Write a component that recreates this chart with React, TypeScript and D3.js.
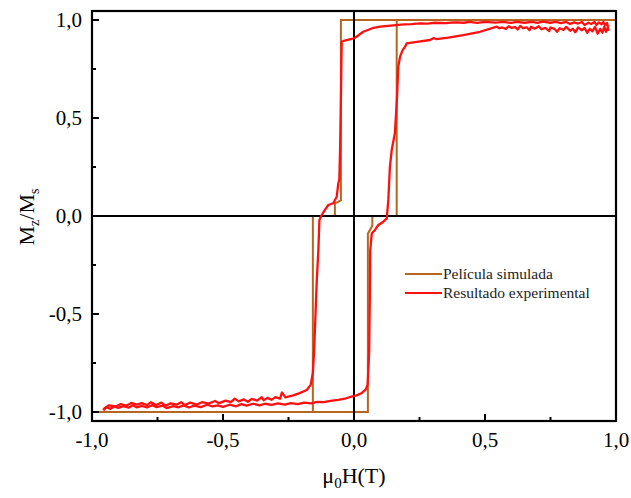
import React from "react";
import * as d3 from "d3";

// ---- data ----
const xMajorTicks = [-1, -0.5, 0, 0.5, 1];
const xMinorTicks = [-0.75, -0.25, 0.25, 0.75];
const yMajorTicks = [-1, -0.5, 0, 0.5, 1];
const yMinorTicks = [-0.75, -0.25, 0.25, 0.75];
const tickLabels = ["-1,0", "-0,5", "0,0", "0,5", "1,0"];

const seriesNames = ["Película simulada", "Resultado experimental"];
const seriesColors = ["#B8651F", "#FF1010"];

// simulated film loop: descending then ascending branch  [H, M]
const simDescending: [number, number][] = [
  [1, 1], [-0.05, 1], [-0.05, 0.08], [-0.073, 0.065], [-0.073, 0],
  [-0.157, 0], [-0.157, -1], [-1, -1],
];
const simAscending: [number, number][] = [
  [-1, -1], [0.053, -1], [0.053, -0.09], [0.07, -0.05], [0.07, 0],
  [0.163, 0], [0.163, 1], [1, 1],
];

// experimental loop: descending branch (right -> left)
const expDescending: [number, number][] = [
  [0.97, 0.96], [0.966, 0.985], [0.958, 0.972], [0.952, 0.99], [0.945, 0.978],
  [0.935, 0.988], [0.925, 0.975], [0.918, 0.99], [0.905, 0.98], [0.895, 0.986],
  [0.88, 0.975], [0.87, 0.99], [0.855, 0.982], [0.84, 0.988], [0.825, 0.98],
  [0.81, 0.99], [0.79, 0.984], [0.77, 0.99], [0.75, 0.986], [0.72, 0.992],
  [0.7, 0.985], [0.68, 0.99], [0.65, 0.986], [0.62, 0.99], [0.6, 0.985],
  [0.57, 0.99], [0.54, 0.987], [0.5, 0.99], [0.47, 0.985], [0.44, 0.99],
  [0.42, 0.986], [0.38, 0.988], [0.35, 0.984], [0.31, 0.986],
  [0.28, 0.982], [0.25, 0.983], [0.22, 0.979], [0.19, 0.978], [0.16, 0.974],
  [0.13, 0.97], [0.1, 0.966], [0.07, 0.958], [0.035, 0.94], [0.015, 0.92],
  [0.0, 0.907], [-0.02, 0.9], [-0.04, 0.893], [-0.047, 0.889],
  [-0.048, 0.8], [-0.05, 0.59], [-0.053, 0.35], [-0.056, 0.184], [-0.06, 0.167],
  [-0.066, 0.098], [-0.079, 0.065], [-0.098, 0.056], [-0.111, 0.031],
  [-0.123, 0.005], [-0.132, -0.02], [-0.136, -0.173], [-0.142, -0.327],
  [-0.145, -0.43], [-0.152, -0.684], [-0.157, -0.8], [-0.165, -0.86],
  [-0.18, -0.888], [-0.21, -0.905], [-0.232, -0.915], [-0.262, -0.925],
  [-0.275, -0.9], [-0.282, -0.932], [-0.3, -0.924], [-0.315, -0.938],
  [-0.33, -0.928], [-0.345, -0.94], [-0.352, -0.925], [-0.37, -0.942],
  [-0.39, -0.933], [-0.405, -0.948], [-0.42, -0.936], [-0.44, -0.946],
  [-0.455, -0.932], [-0.47, -0.95], [-0.49, -0.942], [-0.515, -0.955],
  [-0.53, -0.944], [-0.555, -0.957], [-0.58, -0.95], [-0.6, -0.962],
  [-0.625, -0.952], [-0.645, -0.965], [-0.66, -0.95], [-0.675, -0.962],
  [-0.7, -0.956], [-0.72, -0.968], [-0.735, -0.952], [-0.755, -0.964],
  [-0.775, -0.95], [-0.79, -0.965], [-0.81, -0.955], [-0.83, -0.962],
  [-0.85, -0.954], [-0.87, -0.968], [-0.89, -0.96], [-0.91, -0.972],
  [-0.935, -0.966], [-0.95, -0.978], [-0.957, -0.99],
];

// experimental loop: ascending branch (left -> right)
const expAscending: [number, number][] = [
  [-0.957, -0.99], [-0.945, -0.976], [-0.93, -0.984], [-0.915, -0.972],
  [-0.9, -0.979], [-0.88, -0.97], [-0.86, -0.978], [-0.845, -0.966],
  [-0.83, -0.976], [-0.81, -0.969], [-0.79, -0.977], [-0.77, -0.965],
  [-0.755, -0.975], [-0.73, -0.968], [-0.715, -0.98], [-0.69, -0.97],
  [-0.67, -0.976], [-0.65, -0.966], [-0.63, -0.977], [-0.61, -0.968],
  [-0.585, -0.975], [-0.56, -0.963], [-0.54, -0.972], [-0.52, -0.966],
  [-0.5, -0.974], [-0.475, -0.963], [-0.45, -0.971], [-0.43, -0.96],
  [-0.41, -0.968], [-0.385, -0.958], [-0.36, -0.966], [-0.34, -0.958],
  [-0.315, -0.964], [-0.29, -0.956], [-0.265, -0.962], [-0.24, -0.955],
  [-0.215, -0.96], [-0.19, -0.952], [-0.165, -0.956], [-0.14, -0.948],
  [-0.115, -0.95], [-0.09, -0.943], [-0.06, -0.938],
  [-0.03, -0.93], [-0.01, -0.922], [0.01, -0.915], [0.03, -0.903],
  [0.045, -0.885], [0.052, -0.86], [0.056, -0.75], [0.058, -0.684],
  [0.061, -0.343], [0.062, -0.173], [0.068, -0.088], [0.08, -0.071],
  [0.093, -0.046], [0.112, -0.029], [0.125, -0.012], [0.131, 0.082],
  [0.137, 0.25], [0.144, 0.337], [0.156, 0.422], [0.164, 0.6],
  [0.169, 0.762], [0.176, 0.813], [0.185, 0.845], [0.195, 0.864],
  [0.201, 0.881], [0.24, 0.888], [0.29, 0.898], [0.305, 0.908], [0.315, 0.902],
  [0.36, 0.91], [0.417, 0.923], [0.481, 0.94], [0.545, 0.966],
  [0.555, 0.958], [0.565, 0.962], [0.58, 0.955], [0.59, 0.968], [0.6, 0.96],
  [0.615, 0.964], [0.625, 0.952], [0.635, 0.97], [0.645, 0.958], [0.66, 0.962],
  [0.67, 0.948], [0.675, 0.965], [0.69, 0.956], [0.705, 0.968], [0.715, 0.953],
  [0.73, 0.96], [0.745, 0.944], [0.75, 0.962], [0.765, 0.955], [0.775, 0.94],
  [0.785, 0.958], [0.8, 0.95], [0.81, 0.965], [0.825, 0.945], [0.835, 0.955],
  [0.845, 0.938], [0.855, 0.962], [0.87, 0.948], [0.88, 0.96], [0.89, 0.935],
  [0.9, 0.955], [0.91, 0.942], [0.92, 0.965], [0.93, 0.93], [0.94, 0.955],
  [0.948, 0.935], [0.955, 0.965], [0.962, 0.94], [0.968, 0.96], [0.972, 0.945],
];

const W = 631;
const H = 498;
const FONT = "'Liberation Serif', 'Times New Roman', serif";

export default function App() {
  const x = d3.scaleLinear().domain([-1, 1]).range([92, 616]);
  const y = d3.scaleLinear().domain([-1.046, 1.046]).range([421, 11]);
  const line = d3
    .line<[number, number]>()
    .x((d) => x(d[0]))
    .y((d) => y(d[1]));

  const [x0, x1] = x.range();
  const [y0, y1] = y.range();

  return (
    <svg
      width={W}
      height={H}
      style={{ position: "absolute", left: 0, top: 0, background: "#fff" }}
      fontFamily={FONT}
    >
      <rect x={0} y={0} width={W} height={H} fill="#fff" />
      {/* simulated */}
      <path d={line(simDescending) || ""} fill="none" stroke={seriesColors[0]} strokeWidth={2} />
      <path d={line(simAscending) || ""} fill="none" stroke={seriesColors[0]} strokeWidth={2} />

      {/* zero lines */}
      <line x1={x0} x2={x1} y1={y(0)} y2={y(0)} stroke="#000" strokeWidth={2} />
      <line x1={x(0)} x2={x(0)} y1={y1} y2={y0} stroke="#000" strokeWidth={2} />

      {/* experimental */}
      <path d={line(expDescending) || ""} fill="none" stroke={seriesColors[1]} strokeWidth={2.3} strokeLinejoin="round" />
      <path d={line(expAscending) || ""} fill="none" stroke={seriesColors[1]} strokeWidth={2.3} strokeLinejoin="round" />

      {/* frame */}
      <rect x={x0} y={y1} width={x1 - x0} height={y0 - y1} fill="none" stroke="#000" strokeWidth={2.2} />

      {/* x ticks */}
      {xMajorTicks.map((t) => (
        <line key={"xM" + t} x1={x(t)} x2={x(t)} y1={y0} y2={y0 - 7} stroke="#000" strokeWidth={2} />
      ))}
      {xMinorTicks.map((t) => (
        <line key={"xm" + t} x1={x(t)} x2={x(t)} y1={y0} y2={y0 - 4} stroke="#000" strokeWidth={2} />
      ))}
      {xMajorTicks.map((t, i) => (
        <text key={"xl" + t} x={x(t)} y={447} textAnchor="middle" fontSize={21} fill="#000">
          {tickLabels[i]}
        </text>
      ))}

      {/* y ticks */}
      {yMajorTicks.map((t) => (
        <line key={"yM" + t} x1={x0} x2={x0 + 7} y1={y(t)} y2={y(t)} stroke="#000" strokeWidth={2} />
      ))}
      {yMinorTicks.map((t) => (
        <line key={"ym" + t} x1={x0} x2={x0 + 4} y1={y(t)} y2={y(t)} stroke="#000" strokeWidth={2} />
      ))}
      {yMajorTicks.map((t, i) => (
        <text key={"yl" + t} x={82} y={y(t)} dy="0.35em" textAnchor="end" fontSize={21} fill="#000">
          {tickLabels[i]}
        </text>
      ))}

      {/* axis titles */}
      <text x={354} y={483} textAnchor="middle" fontSize={22} fill="#000">
        μ<tspan fontSize={15} dy={5}>0</tspan>
        <tspan dy={-5}>H(T)</tspan>
      </text>
      <text transform="translate(34,217) rotate(-90)" textAnchor="middle" fontSize={22} fill="#000">
        M<tspan fontSize={14} dy={5}>z</tspan>
        <tspan dy={-5}>/M</tspan>
        <tspan fontSize={14} dy={5}>s</tspan>
      </text>

      {/* legend */}
      {seriesNames.map((name, i) => (
        <g key={name}>
          <line x1={405} x2={442} y1={274 + i * 19} y2={274 + i * 19} stroke={seriesColors[i]} strokeWidth={2} />
          <text x={443} y={279 + i * 19} fontSize={15.5} fill="#222">
            {name}
          </text>
        </g>
      ))}
    </svg>
  );
}
